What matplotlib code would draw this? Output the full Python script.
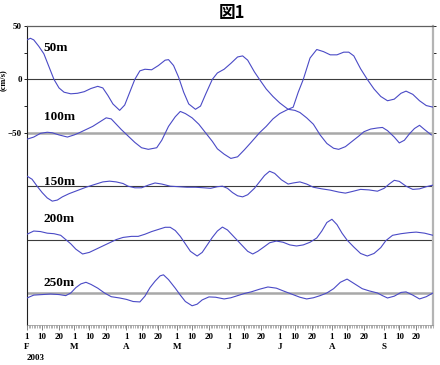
import numpy as np
import matplotlib
matplotlib.use('Agg')
import matplotlib.pyplot as plt
import matplotlib.dates as mdates
from matplotlib.ticker import FixedLocator, FuncFormatter
import matplotlib.transforms as mtransforms

start = np.datetime64('2003-02-01')
end = np.datetime64('2003-09-30')

# days since 1 Feb 2003, velocity anomaly (cm/s)
d50 = [0, 2, 4, 7, 10, 13, 16, 19, 22, 26, 30, 34, 38, 42, 45, 48, 51, 55, 58, 61,
       64, 67, 70, 74, 78, 82, 84, 87, 90, 93, 96, 100, 103, 106, 110, 113, 117, 121,
       125, 128, 131, 135, 138, 142, 146, 150, 155, 158, 161, 164, 168, 172, 176, 180,
       184, 188, 191, 194, 198, 202, 206, 210, 214, 218, 222, 225, 229, 233, 237, 241]
v50 = [37, 38.5, 37, 31, 24, 12, 0, -8, -12, -13.5, -13, -11.5, -8.5, -6.5, -8, -15,
       -23, -29, -24, -12, 0, 8, 9.5, 9, 13, 18, 18.5, 13, 2, -12, -23, -28, -25, -14,
       0, 6, 9.5, 15, 21, 22, 18, 7, 0, -9, -16, -22, -28, -26, -12, 0, 20, 28, 26, 23,
       23, 25.5, 25.5, 22, 10, 0, -9, -16, -20, -18.5, -13, -11, -14, -20, -24.5, -26]

d100 = [0, 4, 8, 12, 15, 19, 24, 28, 31, 35, 39, 43, 47, 50, 53, 56, 60, 64, 68, 72,
        77, 80, 84, 88, 91, 94, 98, 102, 106, 110, 113, 117, 121, 125, 129, 133, 138,
        142, 146, 150, 155, 159, 162, 166, 170, 174, 178, 182, 185, 189, 193, 197, 200,
        204, 208, 211, 214, 218, 221, 224, 227, 230, 233, 236, 240]
v100 = [-6, -4, -0.5, 0.5, 0, -2, -4, -2, 0, 3, 6, 10, 14, 13, 8, 3, -3, -9, -14,
        -15.5, -14, -7, 6, 15, 20, 18, 14, 8, 0, -8, -15, -20, -24, -22.5, -16, -9, 0,
        6, 13, 18, 22, 21, 19, 14, 8, -2, -10, -14.5, -15.5, -13, -8, -3, 1, 3.5, 4.5,
        5, 2, -4, -9.5, -7, -1, 4, 7, 3, -2]

d150 = [0, 3, 6, 9, 12, 15, 18, 21, 25, 30, 35, 40, 45, 49, 53, 57, 60, 64, 68, 72,
        76, 80, 85, 90, 95, 100, 105, 109, 113, 116, 119, 122, 125, 128, 131, 135, 138,
        141, 144, 147, 151, 155, 158, 162, 166, 170, 175, 180, 185, 189, 193, 198, 203,
        208, 212, 215, 218, 221, 225, 229, 233, 237, 241]
v150 = [9.4, 6.5, 0, -6, -11, -14, -13, -10, -7, -4, -1, 1.5, 4, 4.7, 4, 2.5, 0,
        -1.5, -1.5, 1, 3, 2, 0, -0.5, -1, -1, -1.5, -2, -0.5, 0, -2, -6, -9, -10, -8,
        -2, 4, 10, 14, 12, 6, 2, 3, 4, 2, -1, -2.5, -3.7, -5.5, -6.5, -5, -3, -3.5,
        -4.7, -2, 2, 5.5, 4.5, 0, -3, -2.5, -0.5, 1]

d200 = [0, 4, 8, 12, 16, 20, 23, 26, 29, 33, 37, 41, 45, 49, 53, 57, 62, 66, 70, 74,
        78, 82, 85, 88, 91, 94, 97, 101, 104, 107, 110, 113, 116, 119, 122, 125, 128,
        131, 134, 137, 141, 144, 148, 152, 156, 160, 164, 168, 172, 175, 178, 181, 184,
        187, 190, 194, 198, 202, 206, 210, 213, 217, 222, 227, 231, 236, 241]
v200 = [5, 8, 7.5, 6, 5.5, 4, 0, -4, -9, -13.5, -12, -9, -6, -3, 0, 2, 3, 3, 5, 7.5,
        9.5, 11.5, 11.5, 8.5, 3, -4, -11, -15.4, -12, -5, 2, 8, 11.7, 9, 4, -1, -6,
        -11, -13.5, -11, -6.5, -3, -1.4, -2.5, -5, -6, -5, -2.5, 1.5, 8, 16, 19, 14,
        6, -0.5, -7, -13, -15.4, -13, -7.5, -1, 4, 5.5, 6.5, 7, 6, 4]

d250 = [0, 4, 9, 14, 19, 23, 26, 29, 32, 35, 38, 42, 46, 50, 55, 59, 63, 67, 70, 73,
        76, 79, 81, 84, 88, 91, 94, 98, 101, 104, 108, 112, 117, 121, 125, 129, 133,
        138, 143, 148, 152, 157, 162, 166, 170, 174, 178, 182, 186, 190, 194, 199, 203,
        208, 211, 214, 218, 222, 225, 229, 233, 237, 241]
v250 = [-4.7, -2, -1.5, -1, -1.5, -2.5, 0, 5, 8.5, 10, 8, 4.5, 0, -3.5, -4.7, -6, -8,
        -8.4, -3, 5, 11, 16, 17, 12.5, 4.5, -2, -8, -12, -10.5, -6.5, -3.7, -4, -5.6,
        -4.5, -2.5, -0.5, 1, 3.5, 5.6, 4.5, 2, -1, -4, -5.6, -4.5, -2.5, 0, 4, 10, 13,
        9, 4, 2, 0, -2.5, -4.7, -3, 0.5, 1, -2, -5.6, -3.5, 0]

depths = ['50m', '100m', '150m', '200m', '250m']
offsets = [0, -50, -100, -150, -200]
series = [(d50, v50), (d100, v100), (d150, v150), (d200, v200), (d250, v250)]
label_pos = [(10, 29), (10, -35.5), (10, -96), (10, -131), (10, -190.5)]
months = ['F', 'M', 'A', 'M', 'J', 'J', 'A', 'S']

serif = 'Liberation Serif'
line_col = '#4a4ac6'

fig = plt.figure(figsize=(4.4, 3.65), dpi=100)
ax = fig.add_axes([27 / 440, 1 - 325 / 365, 406 / 440, 299 / 365])

for k, (dd, vv) in enumerate(series):
    off = offsets[k]
    thick = off in (-50, -200)
    ax.axhline(off, color='#a8a8a8' if thick else '#3c3c3c',
               lw=1.8 if thick else 0.8, zorder=1)
    x = start + np.array(dd).astype('timedelta64[D]')
    ax.plot(x, np.array(vv) + off, color=line_col, lw=0.8, zorder=3)
    lx = start + np.timedelta64(label_pos[k][0], 'D')
    ax.text(lx, label_pos[k][1], depths[k], family=serif, fontweight='bold',
            fontsize=9.5, va='center', ha='left', zorder=4)

ax.set_xlim(start, end)
ax.set_ylim(-230, 50)

ax.set_yticks([50, 0, -50])
ax.set_yticks([25, -25], minor=True)
ax.tick_params(axis='y', which='both', direction='out', length=2.5, width=0.6,
               labelsize=6.5, pad=1, right=True)
for t in ax.get_yticklabels():
    t.set_family(serif)
    t.set_fontweight('bold')

ax.xaxis.set_major_locator(mdates.DayLocator(bymonthday=[1, 10, 20]))
ax.xaxis.set_minor_locator(mdates.DayLocator(interval=1))
ax.xaxis.set_major_formatter(FuncFormatter(lambda v, p: str(mdates.num2date(v).day)))
ax.tick_params(axis='x', which='major', length=3.5, width=0.6, color='#707070',
               labelsize=6.5, pad=2)
ax.tick_params(axis='x', which='minor', length=2, width=0.5, color='#909090')
for t in ax.get_xticklabels():
    t.set_family(serif)
    t.set_fontweight('bold')

trans = mtransforms.blended_transform_factory(ax.transData, ax.transAxes)
for i, m in enumerate(months):
    mday = np.datetime64('2003-%02d-01' % (i + 2))
    ax.text(mday, -0.075, m, transform=trans, ha='center', va='center',
            family=serif, fontweight='bold', fontsize=6.5)
ax.text(start, -0.11, '2003', transform=trans, ha='left', va='center',
        family=serif, fontweight='bold', fontsize=6.5)

ax.spines['left'].set_color('#202020')
ax.spines['left'].set_linewidth(0.8)
ax.spines['top'].set_color('#606060')
ax.spines['top'].set_linewidth(0.9)
ax.spines['right'].set_color('#b4b4b4')
ax.spines['right'].set_linewidth(1.6)
ax.spines['bottom'].set_color('#909090')
ax.spines['bottom'].set_linewidth(0.5)

ax.set_ylabel('(cm/s)', family=serif, fontweight='bold', fontsize=6, labelpad=3)
ax.yaxis.set_label_coords(-0.05, 0.82)

fig.text(232 / 440, 1 - 13 / 365, '図1', ha='center', va='center',
         family=['Noto Sans CJK JP', 'DejaVu Sans'], fontweight='bold', fontsize=12)

fig.savefig('out.png', dpi=100)
